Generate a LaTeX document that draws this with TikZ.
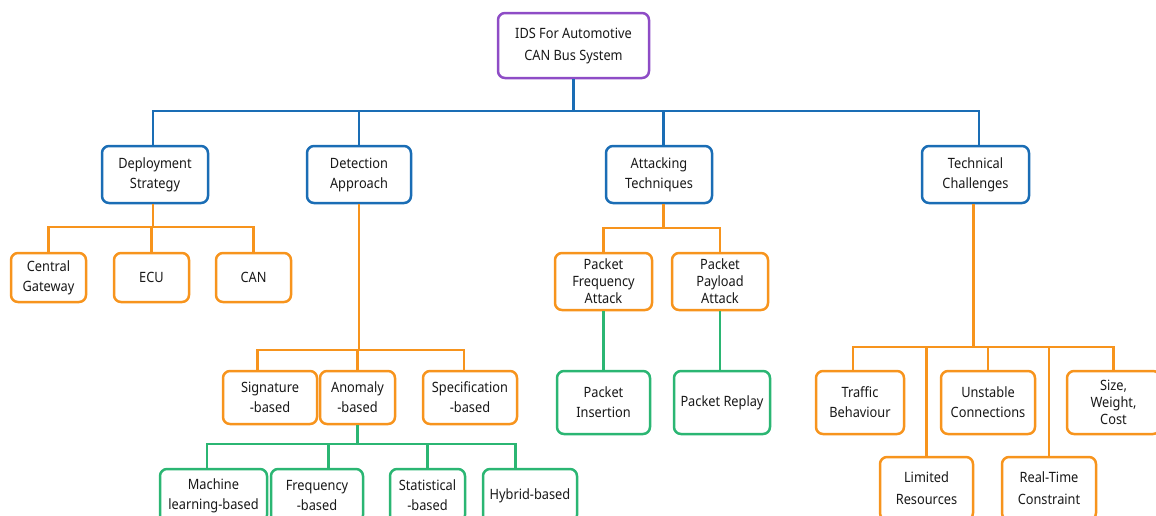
\documentclass[tikz,border=0pt]{standalone}
\usepackage{fontspec}
\setmainfont{Noto Sans}[FakeStretch=0.9]
\usetikzlibrary{calc}

\definecolor{cPurple}{HTML}{8E4CC6}
\definecolor{cBlue}{HTML}{1A6DB5}
\definecolor{cOrange}{HTML}{F7941D}
\definecolor{cGreen}{HTML}{2BB673}

\tikzset{
  box/.style={draw=#1, line width=2.5pt, rounded corners=7pt, fill=white,
    inner sep=0pt, align=center, text=black!90,
    font=\fontsize{14.2}{20}\selectfont},
  tight/.style={font=\fontsize{14.2}{17}\selectfont},
  wide/.style={font=\fontsize{14.2}{22}\selectfont},
  link/.style={draw=#1, line width=2.5pt},
}

\begin{document}
\begin{tikzpicture}[x=1pt, y=-1pt]
\useasboundingbox (0,0) rectangle (1156,515);
\clip (0,0) rectangle (1156,515);

% levels of the horizontal bus lines
\coordinate (busA) at (0,111);
\coordinate (busDep) at (0,227);
\coordinate (busDet) at (0,350);
\coordinate (busAno) at (0,444);
\coordinate (busAtt) at (0,228);
\coordinate (busTec) at (0,347);

% ---- root and first level ----
\node[box=cPurple, wide, minimum width=151pt, minimum height=65pt] (root) at (573.5,45.5)
  {IDS For Automotive\\CAN Bus System};

\node[box=cBlue, minimum width=106pt, minimum height=57pt] (dep) at (155,174.5)
  {Deployment\\Strategy};
\node[box=cBlue, minimum width=104pt, minimum height=57pt] (det) at (359,174.5)
  {Detection\\Approach};
\node[box=cBlue, minimum width=106pt, minimum height=57pt] (att) at (659,174.5)
  {Attacking\\Techniques};
\node[box=cBlue, minimum width=107pt, minimum height=57pt] (tec) at (975.5,174.5)
  {Technical\\Challenges};

% ---- deployment strategy ----
\node[box=cOrange, minimum width=75pt, minimum height=49pt] (cg) at (48.5,277.5)
  {Central\\Gateway};
\node[box=cOrange, minimum width=75pt, minimum height=49pt] (ecu) at (151.5,277.5)
  {ECU};
\node[box=cOrange, minimum width=75pt, minimum height=49pt] (can) at (253.5,277.5)
  {CAN};

% ---- detection approach ----
\node[box=cOrange, minimum width=94pt, minimum height=53pt] (sig) at (270,397.5)
  {Signature\\-based};
\node[box=cOrange, minimum width=75pt, minimum height=53pt] (ano) at (357.5,397.5)
  {Anomaly\\-based};
\node[box=cOrange, minimum width=94pt, minimum height=53pt] (spe) at (470,397.5)
  {Specification\\-based};

\node[box=cGreen, minimum width=107pt, minimum height=53pt] (ml) at (213.5,495.5)
  {Machine\\learning-based};
\node[box=cGreen, minimum width=92pt, minimum height=53pt] (frq) at (317,495.5)
  {Frequency\\-based};
\node[box=cGreen, minimum width=75pt, minimum height=53pt] (sta) at (427.5,495.5)
  {Statistical\\-based};
\node[box=cGreen, minimum width=94pt, minimum height=53pt] (hyb) at (530,495.5)
  {Hybrid-based};

% ---- attacking techniques ----
\node[box=cOrange, tight, minimum width=97pt, minimum height=57pt] (pfa) at (603.5,281.5)
  {Packet\\Frequency\\Attack};
\node[box=cOrange, tight, minimum width=96pt, minimum height=57pt] (ppa) at (720,281.5)
  {Packet\\Payload\\Attack};
\node[box=cGreen, minimum width=93pt, minimum height=63pt] (pin) at (603.5,402.5)
  {Packet\\Insertion};
\node[box=cGreen, minimum width=96pt, minimum height=63pt] (prp) at (722,402.5)
  {Packet Replay};

% ---- technical challenges ----
\node[box=cOrange, minimum width=88pt, minimum height=63pt] (trb) at (860,402.5)
  {Traffic\\Behaviour};
\node[box=cOrange, minimum width=94pt, minimum height=63pt] (unc) at (988,402.5)
  {Unstable\\Connections};
\node[box=cOrange, tight, minimum width=93pt, minimum height=63pt] (swc) at (1113.5,402.5)
  {Size,\\Weight,\\Cost};
\node[box=cOrange, wide, minimum width=93pt, minimum height=63pt] (lim) at (926.5,488.5)
  {Limited\\Resources};
\node[box=cOrange, wide, minimum width=94pt, minimum height=63pt] (rtc) at (1049,488.5)
  {Real-Time\\Constraint};

% ---- off-centre attachment points on box edges ----
\coordinate (depTop) at ($(dep.north west)!0.48!(dep.north east)$);
\coordinate (attTop) at ($(att.north west)!0.54!(att.north east)$);
\coordinate (tecTop) at ($(tec.north west)!0.53!(tec.north east)$);
\coordinate (tecBot) at ($(tec.south west)!0.48!(tec.south east)$);
\coordinate (sigTop) at ($(sig.north west)!0.37!(sig.north east)$);
\coordinate (speTop) at ($(spe.north west)!0.44!(spe.north east)$);
\coordinate (mlTop) at ($(ml.north west)!0.44!(ml.north east)$);
\coordinate (frqTop) at ($(frq.north west)!0.62!(frq.north east)$);
\coordinate (hybTop) at ($(hyb.north west)!0.35!(hyb.north east)$);
\coordinate (trbTop) at ($(trb.north west)!0.42!(trb.north east)$);

% ---- links ----
\begin{scope}[link=cBlue]
  \path[draw] (root.south) -- (root.south |- busA);
  \path[draw] (depTop) -- (depTop |- busA) -- (tecTop |- busA) -- (tecTop);
  \path[draw] (det.north) -- (det.north |- busA);
  \path[draw] (attTop) -- (attTop |- busA);
\end{scope}

\begin{scope}[link=cOrange]
  \path[draw] (depTop |- dep.south) -- (depTop |- busDep);
  \path[draw] (cg.north) -- (cg.north |- busDep) -- (can.north |- busDep) -- (can.north);
  \path[draw] (ecu.north) -- (ecu.north |- busDep);

  \path[draw] (det.south) -- (det.south |- busDet);
  \path[draw] (sigTop) -- (sigTop |- busDet) -- (speTop |- busDet) -- (speTop);
  \path[draw] (ano.north) -- (ano.north |- busDet);

  \path[draw] (attTop |- att.south) -- (attTop |- busAtt);
  \path[draw] (pfa.north) -- (pfa.north |- busAtt) -- (ppa.north |- busAtt) -- (ppa.north);

  \path[draw] (tecBot) -- (tecBot |- busTec);
  \path[draw] (trbTop) -- (trbTop |- busTec) -- (swc.north |- busTec) -- (swc.north);
  \path[draw] (unc.north) -- (unc.north |- busTec);
  \path[draw] (lim.north) -- (lim.north |- busTec);
  \path[draw] (rtc.north) -- (rtc.north |- busTec);
\end{scope}

\begin{scope}[link=cGreen]
  \path[draw] (ano.south) -- (ano.south |- busAno);
  \path[draw] (mlTop) -- (mlTop |- busAno) -- (hybTop |- busAno) -- (hybTop);
  \path[draw] (frqTop) -- (frqTop |- busAno);
  \path[draw] (sta.north) -- (sta.north |- busAno);
  \path[draw] (pfa.south) -- (pin.north);
  \path[draw] (ppa.south) -- (ppa.south |- prp.north);
\end{scope}
\end{tikzpicture}
\end{document}
